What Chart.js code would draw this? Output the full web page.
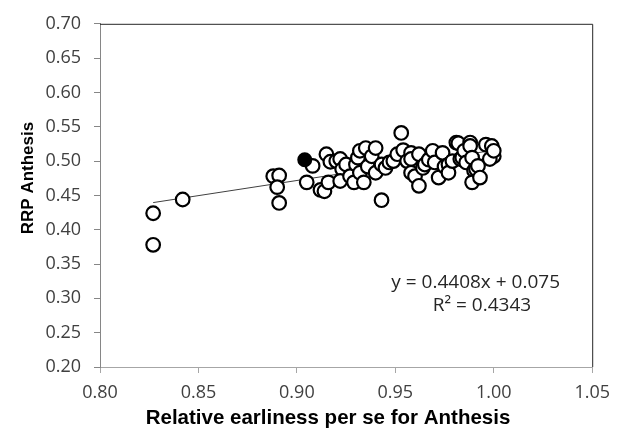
<!DOCTYPE html>
<html><head><meta charset="utf-8">
<script src="https://cdn.jsdelivr.net/npm/chart.js@4/dist/chart.umd.min.js"></script>
<style>html,body{margin:0;padding:0;background:#fff}#wrap{width:619px;height:446px}</style>
</head><body><div id="wrap"><canvas id="c" width="619" height="446"></canvas></div>
<script>
// ---- data ----
const earliness = [0.827,0.827,0.842,0.888,0.891,0.890,0.891,0.908,0.905,0.912,0.914,0.916,0.915,0.917,0.920,0.922,0.923,0.922,0.925,0.927,0.929,0.930,0.931,0.932,0.932,0.934,0.935,0.936,0.938,0.940,0.940,0.943,0.943,0.945,0.947,0.949,0.951,0.953,0.954,0.956,0.958,0.958,0.958,0.960,0.962,0.962,0.964,0.965,0.967,0.969,0.970,0.972,0.974,0.975,0.977,0.977,0.979,0.981,0.982,0.983,0.984,0.985,0.986,0.988,0.988,0.989,0.990,0.989,0.991,0.992,0.993,0.996,0.999,1.000,0.998,1.000];
const rrpAnthesis = [0.424,0.378,0.444,0.478,0.479,0.462,0.439,0.493,0.469,0.458,0.456,0.469,0.510,0.499,0.500,0.503,0.488,0.471,0.495,0.478,0.469,0.495,0.505,0.515,0.483,0.469,0.519,0.492,0.507,0.519,0.483,0.495,0.443,0.490,0.498,0.500,0.510,0.541,0.516,0.500,0.512,0.503,0.483,0.478,0.510,0.464,0.490,0.495,0.502,0.515,0.498,0.476,0.512,0.492,0.495,0.483,0.500,0.527,0.526,0.503,0.505,0.515,0.498,0.527,0.522,0.505,0.486,0.469,0.488,0.493,0.476,0.524,0.522,0.507,0.503,0.515];
const highlightX = [0.904];
const highlightY = [0.502];
const xTickValues = [0.80,0.85,0.90,0.95,1.00,1.05];
const yTickValues = [0.20,0.25,0.30,0.35,0.40,0.45,0.50,0.55,0.60,0.65,0.70];
const trendSlope = 0.4408;
const trendIntercept = 0.075;
const trendRange = [0.827, 1.000];
const equationText = "y = 0.4408x + 0.075";
const r2Text = "R\u00B2 = 0.4343";
const xTitle = "Relative earliness per se for Anthesis";
const yTitle = "RRP Anthesis";

// ---- build ----
const openPts = earliness.map((x,i)=>({x, y: rrpAnthesis[i]}));
const filledPts = highlightX.map((x,i)=>({x, y: highlightY[i]}));
const trendPts = trendRange.map(x=>({x, y: trendSlope*x + trendIntercept}));

const tickFont = {family:"'Open Sans', sans-serif", size:18};
const framePlugin = {
  id:'frame',
  afterDraw(chart){
    const {ctx, chartArea:a} = chart;
    ctx.save();
    ctx.strokeStyle = '#262626'; ctx.lineWidth = 1;
    ctx.beginPath();
    ctx.moveTo(a.left, a.top+0.5); ctx.lineTo(a.right+0.5, a.top+0.5);
    ctx.lineTo(a.right+0.5, a.bottom);
    ctx.stroke();
    const xs = chart.scales.x, ys = chart.scales.y;
    // regression equation
    ctx.fillStyle = '#262626';
    ctx.font = "19px 'Open Sans', sans-serif";
    ctx.textAlign = 'center'; ctx.textBaseline = 'middle';
    ctx.fillText(equationText, xs.getPixelForValue(0.9908), ys.getPixelForValue(0.3232));
    ctx.fillText(r2Text, xs.getPixelForValue(0.9940), ys.getPixelForValue(0.2899));
    // axis titles
    ctx.fillStyle = '#000';
    ctx.font = "bold 20.5px 'Liberation Sans', Arial, sans-serif";
    ctx.fillText(xTitle, 328, 418);
    ctx.translate(28, 178);
    ctx.rotate(-Math.PI/2);
    ctx.font = "bold 17px 'Liberation Sans', Arial, sans-serif";
    ctx.fillText(yTitle, 0, 0);
    ctx.restore();
  }
};

new Chart(document.getElementById('c'), {
  type:'scatter',
  data:{datasets:[
    {label:'highlight', data:filledPts, pointRadius:6.5, pointHoverRadius:6.5, pointBackgroundColor:'#000', pointBorderColor:'#000', pointBorderWidth:2},
    {label:'RRP', data:openPts, pointRadius:6.8, pointHoverRadius:6.8, pointBackgroundColor:'#fff', pointBorderColor:'#000', pointBorderWidth:2.2},
    {label:'trend', type:'line', data:trendPts, showLine:true, borderColor:'#404040', borderWidth:1, pointRadius:0, fill:false}
  ]},
  options:{
    responsive:false, animation:false, devicePixelRatio:1,
    layout:{padding:{top:22,right:21,left:0,bottom:0}},
    plugins:{legend:{display:false}, tooltip:{enabled:false}},
    scales:{
      x:{type:'linear', min:0.80, max:1.05,
        afterBuildTicks(s){ s.ticks = xTickValues.map(v=>({value:v})); },
        afterFit(s){ s.height = 79; },
        ticks:{callback:v=>v.toFixed(2), font:tickFont, color:'#404040', padding:9, maxRotation:0},
        grid:{drawOnChartArea:false, drawTicks:true, tickLength:6, color:'#a6a6a6'},
        border:{display:true, color:'#a6a6a6', width:1},
        title:{display:false, text:xTitle}
      },
      y:{type:'linear', min:0.20, max:0.70,
        afterBuildTicks(s){ s.ticks = yTickValues.map(v=>({value:v})); },
        afterFit(s){ s.width = 100; },
        ticks:{callback:v=>v.toFixed(2), font:tickFont, color:'#404040', padding:13},
        grid:{drawOnChartArea:false, drawTicks:true, tickLength:6, color:'#868686'},
        border:{display:true, color:'#868686', width:1},
        title:{display:false, text:yTitle}
      }
    }
  },
  plugins:[framePlugin]
});
</script></body></html>
